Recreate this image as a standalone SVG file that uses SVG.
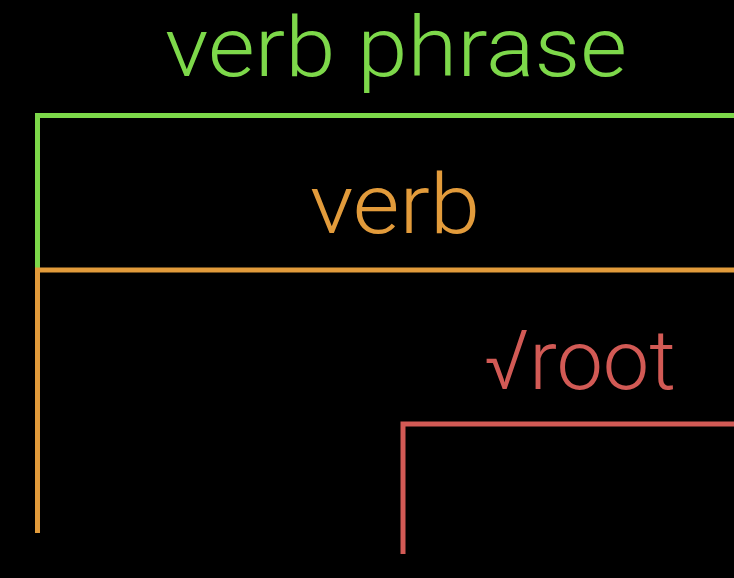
<svg xmlns="http://www.w3.org/2000/svg" width="734" height="578" viewBox="0 0 734 578">
<style>
text{font-family:Roboto,"Liberation Sans",sans-serif;font-weight:300;font-size:83px;text-anchor:middle}
.g{fill:#7dd84a}.o{fill:#e29b3b}.r{fill:#d25a55}
.ln{fill:none;stroke-width:5;stroke-linecap:butt;stroke-linejoin:miter}
</style>
<rect width="734" height="578" fill="#000"/>
<g id="connectors">
<path class="ln" stroke="#7dd84a" d="M37.5,270 V115.5 H734"/>
<path class="ln" stroke="#e29b3b" d="M37.5,533 V270 H734"/>
<path class="ln" stroke="#d25a55" d="M403,554 V424 H734"/>
</g>
<g id="verb-phrase"><text class="g" x="396" y="76" textLength="462" lengthAdjust="spacingAndGlyphs">verb phrase</text></g>
<g id="verb"><text class="o" x="395" y="233" textLength="170" lengthAdjust="spacingAndGlyphs">verb</text></g>
<g id="root"><text class="r" x="580" y="389" textLength="192" lengthAdjust="spacingAndGlyphs">√root</text></g>
</svg>
